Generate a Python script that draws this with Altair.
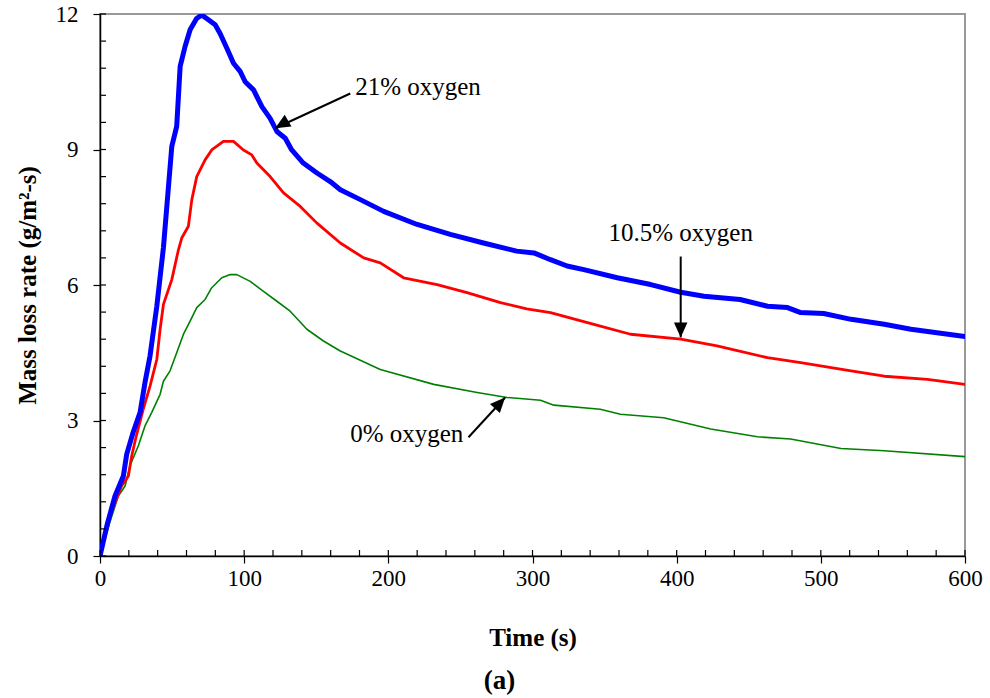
import altair as alt
import pandas as pd

# Mass loss rate curves (time in s, rate in g/m2-s)
time_21 = [0, 5, 10.4, 16.2, 18.5, 23, 27.8, 31.2, 34.7, 39.4, 44, 49.8, 53.2, 55.6, 59, 62.5,
           67, 70.6, 75.2, 79.9, 83.3, 88, 92.6, 97.2, 100.7, 106.5, 112.3, 118, 122.7, 128.5,
           133, 141, 150.5, 159.7, 166.7, 180.6, 196.8, 220, 243, 266, 289, 301, 312.5, 324,
           335.6, 358.8, 382, 402.8, 419, 444, 463, 476.9, 486, 502, 521, 544, 562.5, 600]
rate_21 = [0, 0.7, 1.33, 1.77, 2.25, 2.74, 3.18, 3.84, 4.43, 5.53, 6.83, 9.07, 9.51, 10.84, 11.28,
           11.65, 11.9, 11.98, 11.87, 11.76, 11.57, 11.24, 10.91, 10.73, 10.5, 10.32, 9.95, 9.69,
           9.4, 9.25, 8.99, 8.7, 8.48, 8.29, 8.11, 7.89, 7.63, 7.34, 7.12, 6.93, 6.75, 6.71, 6.56,
           6.42, 6.34, 6.16, 6.01, 5.84, 5.75, 5.68, 5.53, 5.5, 5.39, 5.37, 5.24, 5.13, 5.02, 4.86]

time_10 = [0, 6.9, 15, 19.7, 22, 25.5, 30, 34.7, 39.4, 41.7, 44, 49.8, 54.4, 56.7, 61.3, 63.7,
           67.1, 72.9, 77.5, 85.6, 92.6, 99.5, 105.3, 108.8, 118, 127.3, 138.9, 150.5, 166.7,
           182.9, 194.4, 210.6, 233.8, 254.6, 277.8, 296, 312.5, 342.6, 368, 402.8, 428, 463,
           486, 521, 544, 574, 600]
rate_10 = [0, 0.89, 1.55, 1.77, 2.22, 2.7, 3.25, 3.76, 4.35, 5.02, 5.57, 6.12, 6.78, 7.04, 7.3,
           7.89, 8.4, 8.77, 8.99, 9.18, 9.18, 8.99, 8.88, 8.7, 8.4, 8.04, 7.74, 7.37, 6.93, 6.6,
           6.49, 6.16, 6.01, 5.83, 5.61, 5.47, 5.39, 5.13, 4.91, 4.8, 4.65, 4.39, 4.28, 4.1, 3.98,
           3.91, 3.8]

time_0 = [0, 6.9, 12.7, 17.4, 20.8, 26.6, 31.2, 35.9, 41.7, 44, 48.6, 53.2, 57.9, 62.5, 67.1,
          72.9, 77.5, 84.5, 90.3, 94.9, 104.2, 113.4, 122.7, 131.9, 143.5, 155, 166.7, 194.4,
          231.5, 261.6, 282.4, 305.6, 314.8, 347, 361, 391, 423.6, 456, 479, 514, 544, 600]
rate_0 = [0, 0.75, 1.33, 1.55, 2.0, 2.44, 2.88, 3.18, 3.58, 3.87, 4.1, 4.5, 4.91, 5.2, 5.5, 5.68,
          5.94, 6.16, 6.23, 6.23, 6.08, 5.86, 5.64, 5.42, 5.02, 4.76, 4.54, 4.13, 3.8, 3.62, 3.51,
          3.45, 3.34, 3.25, 3.14, 3.06, 2.81, 2.64, 2.59, 2.38, 2.33, 2.2]

# Tick positions
x_major = [0, 100, 200, 300, 400, 500, 600]
y_major = [0, 3, 6, 9, 12]
x_minor = list(range(0, 601, 20))
y_minor = [round(0.6 * i, 1) for i in range(21)]

# Annotation labels and their arrows
labels = ["21% oxygen", "10.5% oxygen", "0% oxygen"]
label_t = [177, 402.8, 252]
label_y = [10.39, 7.16, 2.70]
arrow_t0 = [173.6, 402.8, 255.6]
arrow_y0 = [10.24, 6.63, 2.63]
arrow_t1 = [121.5, 402.8, 281]
arrow_y1 = [9.47, 4.84, 3.51]

SERIF = "Liberation Serif"
PLOT_W, PLOT_H = 865, 542
X_MAX, Y_MAX = 600, 12
TICK_LEN = 6  # px, inward minor tick length
x_scale = alt.Scale(domain=[0, X_MAX], nice=False, zero=False)
y_scale = alt.Scale(domain=[0, Y_MAX], nice=False, zero=False)

main_x_axis = alt.Axis(
    orient="bottom", values=x_major, tickSize=7, tickColor="black",
    tickWidth=1.2, domainColor="black", domainWidth=1.5, grid=False,
    labelFont=SERIF, labelFontSize=23, labelColor="black", labelPadding=4,
    labelFlush=False, labelOverlap=False, labelBound=False,
    title="Time (s)", titleFont=SERIF, titleFontSize=25, titleFontWeight="bold",
    titleColor="black", titlePadding=35,
)
main_y_axis = alt.Axis(
    orient="left", values=y_major, tickSize=7, tickColor="black",
    tickWidth=1.2, domainColor="black", domainWidth=1.5, grid=False,
    labelFont=SERIF, labelFontSize=23, labelColor="black", labelPadding=15,
    labelFlush=False, labelOverlap=False, labelBound=False,
    title="Mass loss rate (g/m²-s)", titleFont=SERIF, titleFontSize=25,
    titleFontWeight="bold", titleColor="black", titleX=-73, titleY=271,
    titleBaseline="middle", titleAngle=-90,
)


def frame(t, r):
    return pd.DataFrame({"t": t, "r": r})


styles = [
    (time_0, rate_0, "#008000", 1.6),
    (time_10, rate_10, "#FF0000", 2.8),
    (time_21, rate_21, "#0000FF", 5),
]

# every layer shares the t / r fields, so one pair of axes serves them all
layers = [
    alt.Chart(frame(t, r)).mark_line(color=color, strokeWidth=width, strokeJoin="round",
                                      strokeCap="round", clip=True)
    for t, r, color, width in styles
]

# inward minor ticks along the bottom and left axes, as segments in data units
dy = TICK_LEN * Y_MAX / PLOT_H
dx = TICK_LEN * X_MAX / PLOT_W
tick_segments = pd.concat([
    pd.DataFrame({"t": x_minor, "r": 0.0, "t_end": x_minor, "r_end": dy}),
    pd.DataFrame({"t": 0.0, "r": y_minor, "t_end": dx, "r_end": y_minor}),
], ignore_index=True)
minor_ticks = alt.Chart(tick_segments).mark_rule(color="black", strokeWidth=1.2).encode(
    x2="t_end:Q", y2="r_end:Q",
)

arrows = pd.DataFrame({
    "t": arrow_t0, "r": arrow_y0, "t_end": arrow_t1, "r_end": arrow_y1,
})
shafts = alt.Chart(arrows).mark_rule(color="black", strokeWidth=2).encode(
    x2="t_end:Q", y2="r_end:Q",
)
heads = alt.Chart(
    pd.DataFrame({"t": arrow_t1, "r": arrow_y1, "ang": [239.6, 180, 42.8]})
).mark_point(
    shape="M0,0L-0.45,1L0.45,1Z", filled=True, color="black", opacity=1, size=900
).encode(
    angle=alt.Angle("ang:Q", scale=None),
)

aligns = ["left", "center", "right"]
texts = [
    alt.Chart(pd.DataFrame({"t": [t], "r": [y], "label": [lab]}))
    .mark_text(font=SERIF, fontSize=25, color="black", align=al, baseline="middle")
    .encode(text="label:N")
    for lab, t, y, al in zip(labels, label_t, label_y, aligns)
]

chart = (
    alt.layer(*layers, minor_ticks, shafts, heads, *texts)
    .encode(
        x=alt.X("t:Q", scale=x_scale, axis=main_x_axis),
        y=alt.Y("r:Q", scale=y_scale, axis=main_y_axis),
    )
    .properties(
        width=PLOT_W, height=PLOT_H,
        autosize=alt.AutoSizeParams(type="none"),
        padding={"left": 100, "top": 14, "right": 25, "bottom": 142},
        title=alt.TitleParams(
            text="(a)", orient="bottom", anchor="middle", dx=-33, offset=18,
            font=SERIF, fontSize=27, fontWeight="bold", color="black",
        ),
        background="white",
    )
    .configure_view(stroke="#999999", strokeWidth=2)
)

chart.save("out.html", embed_options={"renderer": "svg", "actions": False})
